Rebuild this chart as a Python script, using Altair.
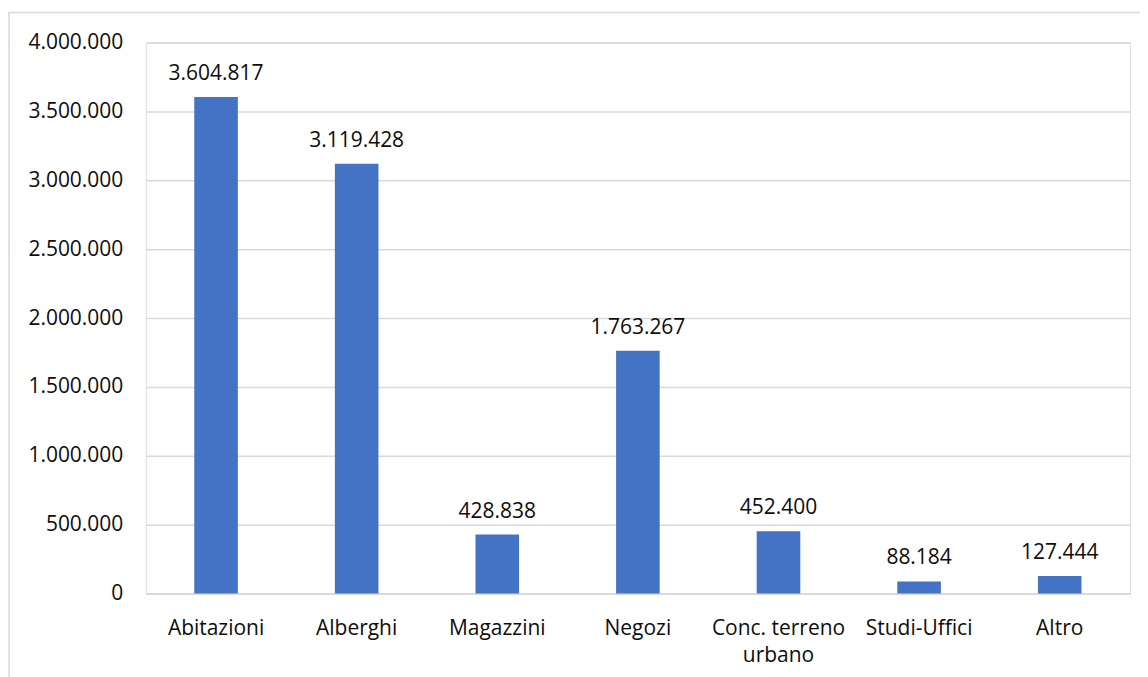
import altair as alt
import pandas as pd

categories = ["Abitazioni", "Alberghi", "Magazzini", "Negozi",
              "Conc. terreno urbano", "Studi-Uffici", "Altro"]
values = [3604817, 3119428, 428838, 1763267, 452400, 88184, 127444]
y_ticks = [0, 500000, 1000000, 1500000, 2000000, 2500000, 3000000, 3500000, 4000000]

df = pd.DataFrame({"cat": categories, "val": values})

FONT = "Open Sans"
FS = 21
W, H = 986, 552

x = alt.X("cat:N", sort=categories, title=None,
          scale=alt.Scale(paddingInner=0.69, paddingOuter=0.345),
          axis=alt.Axis(labelAngle=0, labelFont=FONT, labelFontSize=FS,
                        labelColor="#0d0d0d", ticks=False, domain=True,
                        domainColor="#d9d9d9", domainWidth=1.5,
                        labelPadding=24, labelLineHeight=27,
                        labelExpr="datum.label == 'Conc. terreno urbano' ? ['Conc. terreno', 'urbano'] : datum.label"))
y = alt.Y("val:Q", title=None,
          scale=alt.Scale(domain=[0, 4000000], nice=False),
          axis=alt.Axis(values=y_ticks,
                        labelExpr="replace(format(datum.value, ',d'), /,/g, '.')",
                        labelFont=FONT, labelFontSize=FS,
                        labelColor="#0d0d0d", ticks=False, domain=False,
                        gridColor="#d9d9d9", gridWidth=1.5, labelPadding=23))

base = alt.Chart(df)
bars = base.mark_bar(color="#4472C4").encode(x=x, y=y)
labels = base.mark_text(font=FONT, fontSize=FS, color="#0d0d0d",
                        baseline="bottom", dy=-13).encode(
    x=x, y=y, text=alt.Text("val:Q", format=","))

border = alt.Chart(pd.DataFrame({"a": [0]})).mark_rect(
    fill=None, stroke="#d9d9d9", strokeWidth=1.5, clip=False).encode(
    x=alt.value(-137), x2=alt.value(1001), y=alt.value(-30), y2=alt.value(700))

chart = alt.layer(border, bars, labels).properties(
    width=W, height=H,
    padding={"left": 138, "top": 34, "right": 10, "bottom": 90},
    autosize=alt.AutoSizeParams(type="none"),
).configure_view(stroke=None).configure(
    locale={"number": {"decimal": ",", "thousands": ".", "grouping": [3], "currency": ["€", ""]}}
)

chart.save("out.html", embed_options={"renderer": "svg", "actions": False})
